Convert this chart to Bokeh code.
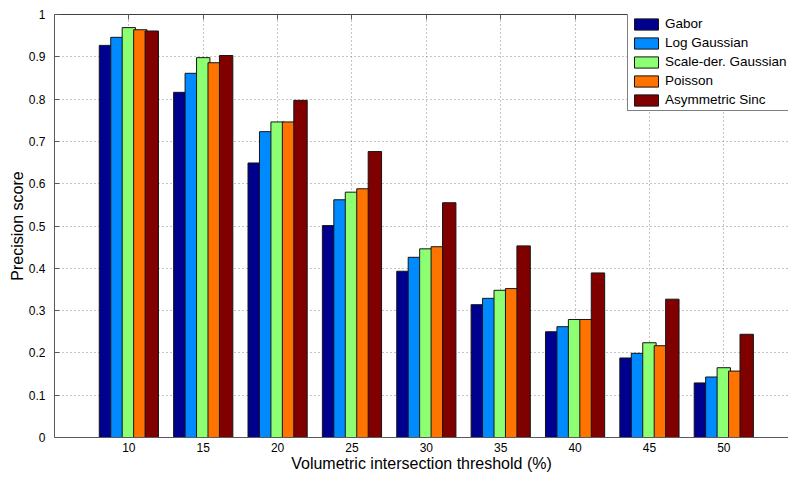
from bokeh.plotting import figure
from bokeh.models import Range1d, LinearAxis, FixedTicker, Legend, LegendItem
from bokeh.embed import file_html
from bokeh.resources import INLINE

thresholds = [10, 15, 20, 25, 30, 35, 40, 45, 50]
gabor = [0.927, 0.816, 0.649, 0.501, 0.393, 0.314, 0.250, 0.188, 0.129]
log_gaussian = [0.946, 0.861, 0.723, 0.562, 0.426, 0.329, 0.262, 0.199, 0.143]
scale_der_gaussian = [0.969, 0.898, 0.746, 0.580, 0.446, 0.348, 0.279, 0.224, 0.165]
poisson = [0.964, 0.886, 0.746, 0.588, 0.451, 0.352, 0.279, 0.217, 0.157]
asymmetric_sinc = [0.961, 0.903, 0.797, 0.676, 0.555, 0.453, 0.389, 0.327, 0.244]

series_names = ["Gabor", "Log Gaussian", "Scale-der. Gaussian", "Poisson", "Asymmetric Sinc"]
series_values = [gabor, log_gaussian, scale_der_gaussian, poisson, asymmetric_sinc]
colors = ["#00008F", "#008AFF", "#8CFF73", "#FF7300", "#800000"]
y_ticks = [0, 0.1, 0.2, 0.3, 0.4, 0.5, 0.6, 0.7, 0.8, 0.9, 1]
y_tick_labels = ["0", "0.1", "0.2", "0.3", "0.4", "0.5", "0.6", "0.7", "0.8", "0.9", "1"]

FONT = "Liberation Sans"
AXIS_COLOR = "#5a5a5a"

p = figure(width=788, height=479, x_range=Range1d(5, 54.35), y_range=Range1d(0, 1),
           output_backend="svg", toolbar_location=None,
           min_border_left=54, min_border_right=0, min_border_top=14, min_border_bottom=42)
p.outline_line_color = None
p.background_fill_color = "white"
p.border_fill_color = "white"

slot = 0.77
bar_w = 0.9
items = []
for i, (name, vals, col) in enumerate(zip(series_names, series_values, colors)):
    xs = [t + (i - 2) * slot for t in thresholds]
    r = p.vbar(x=xs, top=vals, bottom=0, width=bar_w, fill_color=col,
               line_color="#151515", line_width=1)
    items.append(LegendItem(label=name, renderers=[r]))

# axes
xa = p.xaxis[0]
xa.ticker = FixedTicker(ticks=thresholds)
xa.major_tick_in = 0
xa.major_tick_out = 0
xa.minor_tick_line_color = None
xa.axis_line_color = AXIS_COLOR
xa.major_label_text_font = FONT
xa.major_label_text_font_size = "12px"
xa.major_label_text_color = "black"
xa.major_label_standoff = 5
xa.axis_label = "Volumetric intersection threshold (%)"
xa.axis_label_text_font = FONT
xa.axis_label_text_font_size = "16px"
xa.axis_label_text_font_style = "normal"
xa.axis_label_text_color = "black"
xa.axis_label_standoff = 0

ya = p.yaxis[0]
ya.ticker = FixedTicker(ticks=y_ticks)
ya.major_label_overrides = {t: s for t, s in zip(y_ticks, y_tick_labels)}
ya.major_tick_in = 5
ya.major_tick_out = 0
ya.major_tick_line_color = AXIS_COLOR
ya.minor_tick_line_color = None
ya.axis_line_color = AXIS_COLOR
ya.major_label_text_font = FONT
ya.major_label_text_font_size = "12px"
ya.major_label_text_color = "black"
ya.major_label_standoff = 9
ya.axis_label = "Precision score"
ya.axis_label_text_font = FONT
ya.axis_label_text_font_size = "16px"
ya.axis_label_text_font_style = "normal"
ya.axis_label_text_color = "black"
ya.axis_label_standoff = 0

top = LinearAxis(ticker=FixedTicker(ticks=thresholds))
top.major_label_text_font_size = "2px"
top.major_label_text_color = None
top.major_label_standoff = 0
top.major_tick_in = 5
top.major_tick_out = 0
top.major_tick_line_color = AXIS_COLOR
top.minor_tick_line_color = None
top.axis_line_color = "#404040"
p.add_layout(top, "above")

# grid
p.xgrid.ticker = FixedTicker(ticks=thresholds)
p.ygrid.ticker = FixedTicker(ticks=y_ticks[1:-1])
for g in (p.xgrid[0], p.ygrid[0]):
    g.grid_line_color = "#8a8a8a"
    g.grid_line_dash = "1 3"
    g.grid_line_width = 1

legend = Legend(items=items, location=(573, 326))
legend.label_text_font = FONT
legend.label_text_font_size = "13.5px"
legend.label_text_color = "black"
legend.glyph_width = 30
legend.glyph_height = 14
legend.label_height = 14
legend.label_standoff = 4
legend.spacing = 4
legend.padding = 3
legend.margin = 0
legend.border_line_color = "black"
legend.border_line_width = 1
legend.background_fill_color = "white"
legend.background_fill_alpha = 1
p.add_layout(legend, "center")

open("out.html", "w").write(file_html(p, INLINE))
